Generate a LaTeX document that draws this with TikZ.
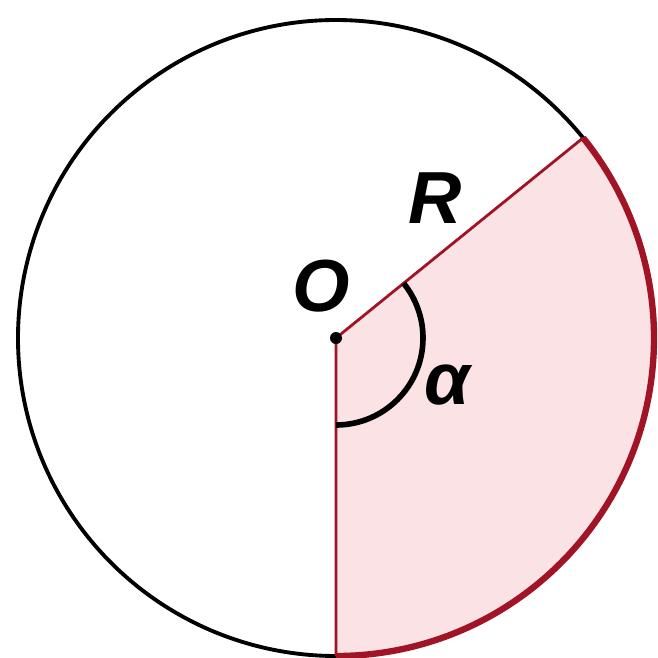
\documentclass[tikz,border=0pt]{standalone}
\usepackage{fontspec}
\setmainfont{Liberation Sans}
\usetikzlibrary{calc}
\definecolor{sectorred}{RGB}{160, 20, 38}
\definecolor{sectorpink}{RGB}{251, 226, 229}

\begin{document}
\begin{tikzpicture}[
  circ/.style={draw=black, line width=1.1pt},
  radial/.style={draw=sectorred, line width=0.8pt},
  redarc/.style={draw=sectorred, line width=1.8pt},
  anglearc/.style={draw=black, line width=1.6pt},
  lbl/.style={font=\fontsize{21}{24}\selectfont\bfseries\itshape, inner sep=0pt}
]
\useasboundingbox (0,0) rectangle (6.58,6.57);

%% ── CENTRE AND RADIUS ENDS ──
\coordinate (O) at (3.36,3.19);
\coordinate (A) at ($(O)+(39:3.18)$);
\coordinate (B) at ($(O)+(-90:3.18)$);
\coordinate (a1) at ($(O)+(-90:0.87)$);

%% ── SECTOR ──
\fill[sectorpink] (O) -- (B) arc[start angle=-90, end angle=39, radius=3.18] -- cycle;
\draw[circ] (A) arc[start angle=39, end angle=270, radius=3.18];
\draw[redarc] (B) arc[start angle=-90, end angle=39, radius=3.18];
\draw[radial] (B) -- (O) -- (A);

%% ── ANGLE MARK ──
\draw[anglearc] (a1) arc[start angle=-90, end angle=39, radius=0.87];
\fill (O) circle (0.06);

%% ── LABELS ──
\node[lbl] (lO) at (3.21,3.71) {O};
\node[lbl] (lR) at (4.35,4.59) {R};
\node[lbl] (la) at (4.47,2.72) {α};

\end{tikzpicture}
\end{document}
